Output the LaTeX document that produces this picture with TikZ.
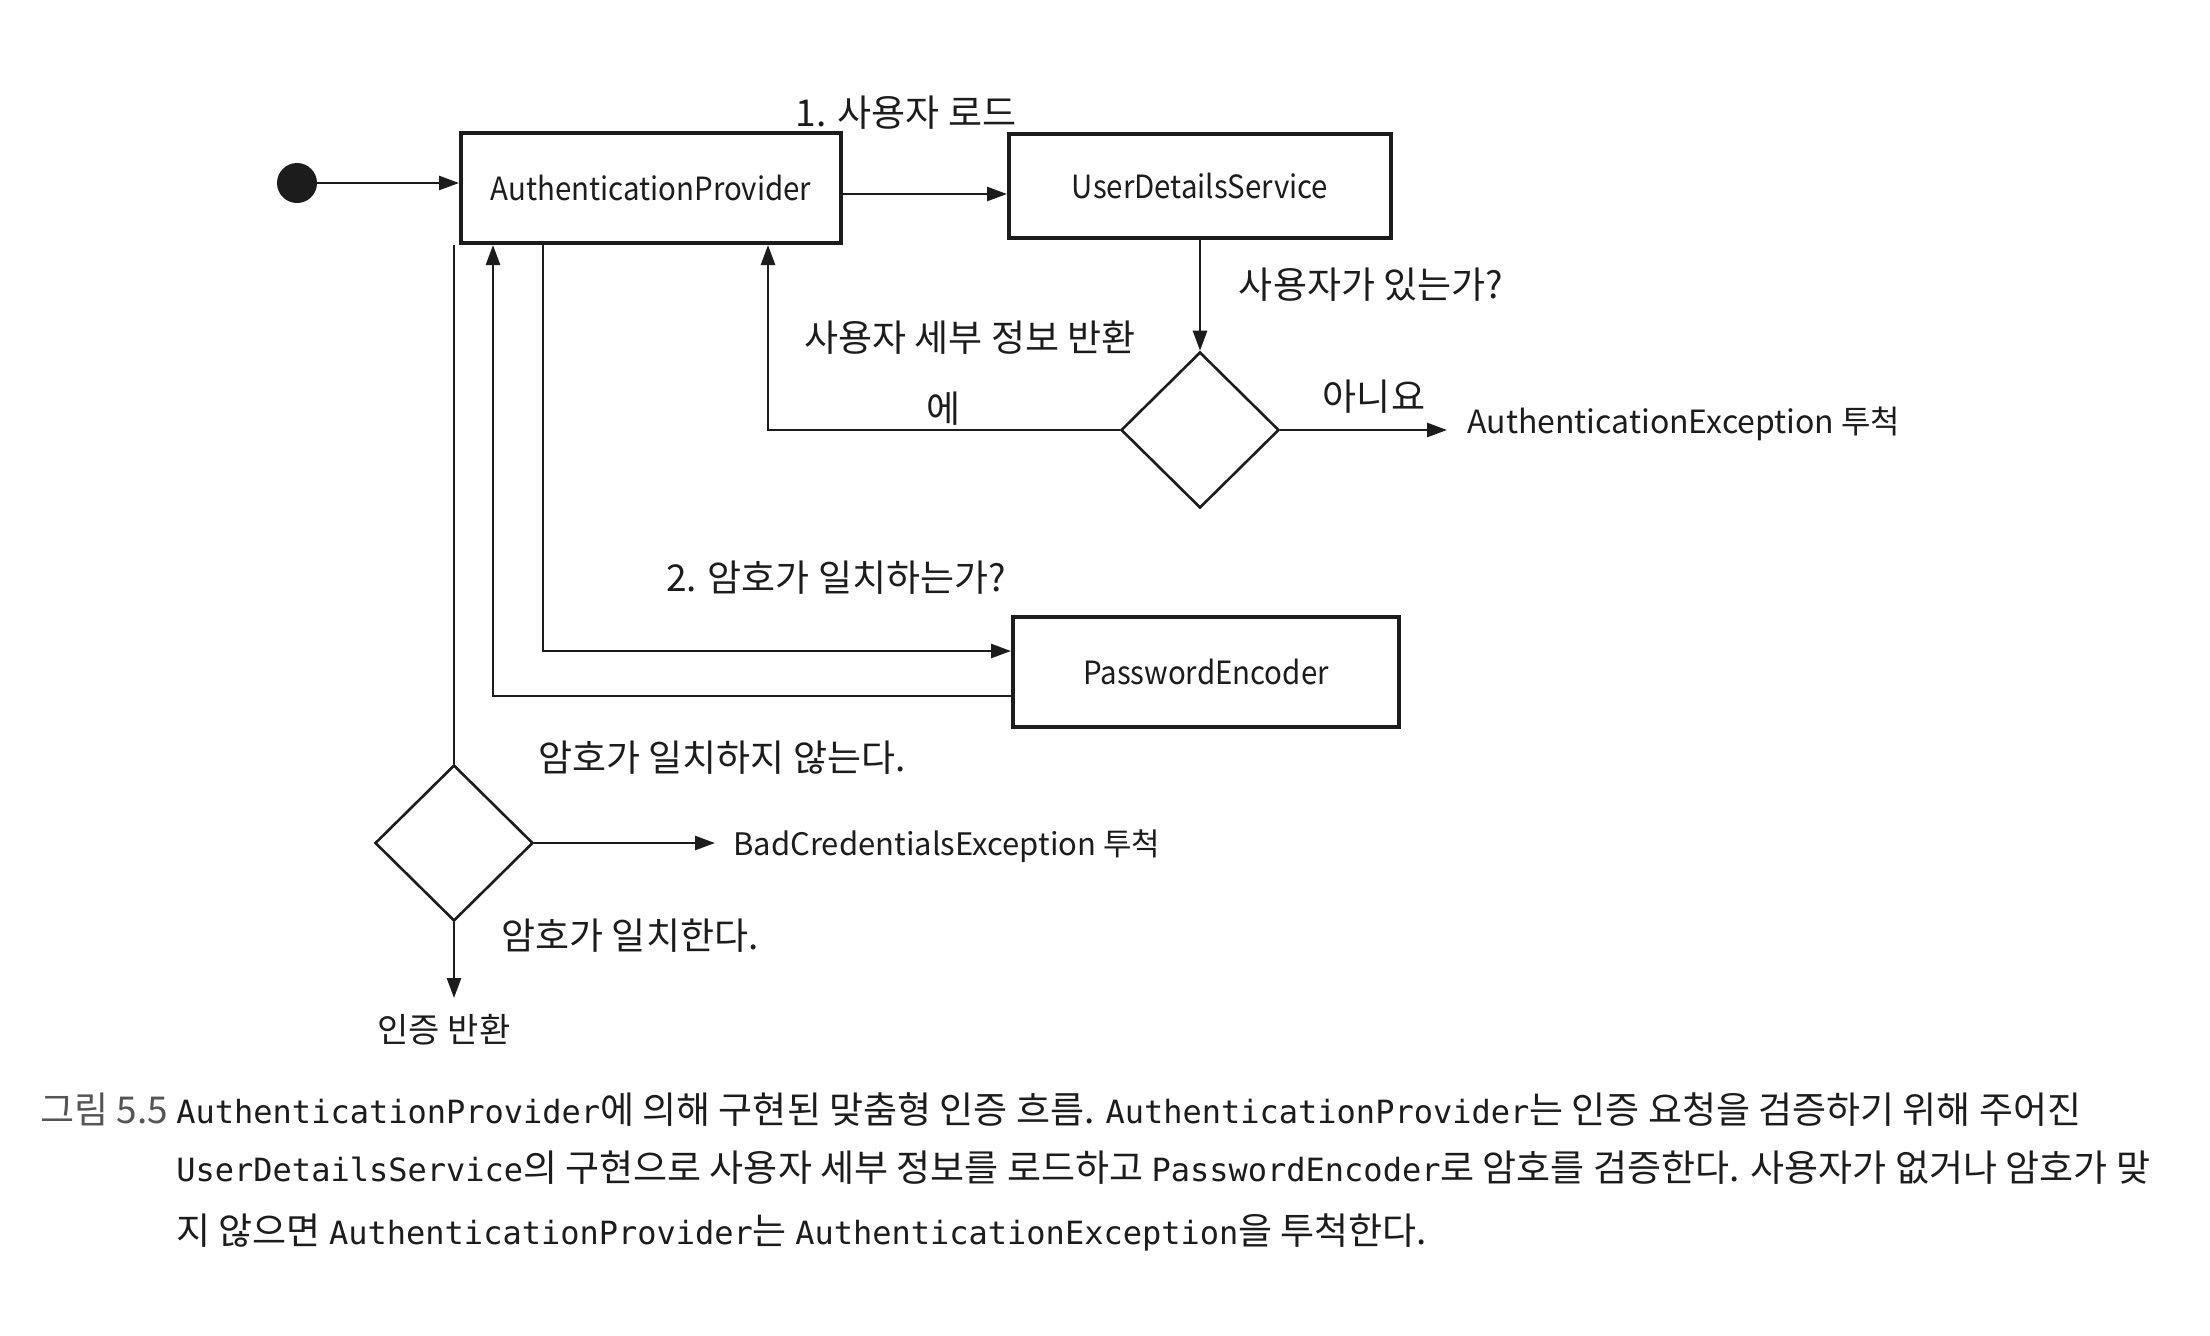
\documentclass[tikz,border=0pt]{standalone}
\usepackage{fontspec}
\setmainfont{Noto Sans CJK KR}
\newfontfamily\capmono{DejaVu Sans Mono}
\newfontfamily\boxfont{Noto Sans CJK KR}[FakeStretch=0.92]
\usetikzlibrary{shapes.geometric,arrows.meta}
\definecolor{ink}{HTML}{1C1C1C}
\tikzset{
  every node/.style={text=ink},
  box/.style={draw=ink,line width=2pt,rectangle,inner sep=0pt,font=\boxfont\fontsize{16}{18}\selectfont},
  dec/.style={draw=ink,line width=1.3pt,diamond,inner sep=0pt,minimum width=79pt,minimum height=78pt},
  conn/.style={draw=ink,line width=1.3pt},
  arr/.style={conn,-{Triangle[length=10pt,width=7pt]}},
  lbl/.style={font=\fontsize{18.5}{20}\selectfont,inner sep=0pt},
  slbl/.style={font=\fontsize{17}{19}\selectfont,inner sep=0pt},
  elbl/.style={font=\fontsize{16}{18}\selectfont,inner sep=0pt,anchor=west},
  capline/.style={font=\fontsize{18.5}{20}\selectfont,inner sep=0pt,anchor=west},
  startdot/.style={circle,fill=ink,inner sep=0pt,minimum size=20pt}
}
\newcommand{\cm}[1]{{\capmono\fontsize{16}{18}\selectfont #1}}
\begin{document}
\begin{tikzpicture}[x=0.5pt,y=-0.5pt]
\useasboundingbox[fill=white] (0,0) rectangle (2210,1335);
% nodes
\node[startdot] (start) at (297,183) {};
\node[box,minimum width=190pt,minimum height=55pt] (ap) at (651,188) {AuthenticationProvider};
\node[box,minimum width=191pt,minimum height=52pt] (uds) at (1200,186) {UserDetailsService};
\node[box,minimum width=193pt,minimum height=55pt] (pe) at (1206,672) {PasswordEncoder};
\node[dec] (d1) at (1200,430) {};
\node[dec] (d2) at (454,843) {};
% coordinates
\coordinate (e1) at (1447,430);
\coordinate (yesx) at (768,430);
\coordinate (c2) at (543,651);
\coordinate (c3) at (493,696);
\coordinate (e2) at (715,843);
\coordinate (e3) at (454,998);
% connectors
\draw[arr] (start) -- (start -| ap.west);
\draw[arr] ([yshift=-3pt]ap.east) -- ([yshift=-3pt]ap.east -| uds.west);
\draw[arr] (uds.south) -- (d1.north);
\draw[arr] (d1.east) -- (e1);
\draw[arr] (d1.west) -- (yesx) -- (yesx |- ap.south);
\draw[conn] (ap.south -| d2.north) -- (d2.north);
\draw[arr] (c2 |- ap.south) -- (c2) -- (c2 -| pe.west);
\draw[arr] (c3 -| pe.west) -- (c3) -- (c3 |- ap.south);
\draw[arr] (d2.east) -- (e2);
\draw[arr] (d2.south) -- (e3);
% labels
\node[lbl] (l1) at (906,113) {1. 사용자 로드};
\node[lbl] (l2) at (1371,285) {사용자가 있는가?};
\node[lbl] (l3) at (970,338) {사용자 세부 정보 반환};
\node[lbl] (l4) at (944,409) {에};
\node[lbl] (l5) at (1374,397) {아니요};
\node[elbl] (l6) at (1467,424) {AuthenticationException 투척};
\node[lbl] (l7) at (836,578) {2. 암호가 일치하는가?};
\node[lbl] (l8) at (722,758) {암호가 일치하지 않는다.};
\node[elbl,font=\fontsize{15.5}{18}\selectfont] (l9) at (733,846) {BadCredentialsException 투척};
\node[lbl] (l10) at (630,936) {암호가 일치한다.};
\node[slbl] (l11) at (444,1030) {인증 반환};
% caption
\node[capline] (cap1) at (40,1109) {{\color{ink!75}그림 5.5} \cm{AuthenticationProvider}에 의해 구현된 맞춤형 인증 흐름. \cm{AuthenticationProvider}는 인증 요청을 검증하기 위해 주어진};
\node[capline] (cap2) at (176,1168) {\cm{UserDetailsService}의 구현으로 사용자 세부 정보를 로드하고 \cm{PasswordEncoder}로 암호를 검증한다. 사용자가 없거나 암호가 맞};
\node[capline] (cap3) at (176,1232) {지 않으면 \cm{AuthenticationProvider}는 \cm{AuthenticationException}을 투척한다.};
\end{tikzpicture}
\end{document}
